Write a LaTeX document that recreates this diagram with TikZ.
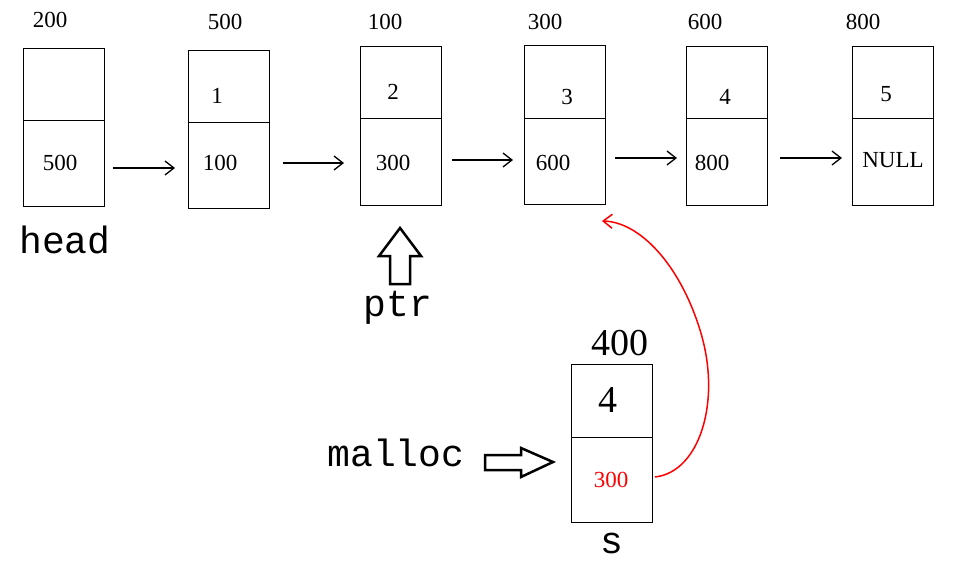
\documentclass[tikz,border=0pt]{standalone}
\usepackage{fontspec}
\usetikzlibrary{arrows.meta}
\setmainfont{Liberation Serif}
\newfontfamily\mono{Liberation Mono}
\begin{document}
\begin{tikzpicture}[x=1pt,y=-1pt,
  cell/.style={draw,line width=1.3pt,inner sep=0,anchor=north west},
  lab/.style={font=\fontsize{23}{27}\selectfont},
  big/.style={font=\fontsize{38}{44}\selectfont},
  word/.style={font=\mono\fontsize{38}{44}\selectfont},
  arr/.style={-{Straight Barb[length=9pt,width=14pt]},line width=1.3pt}]
\useasboundingbox (0,0) rectangle (953,578);
\foreach \n/\x/\t/\m/\b in {a/23/48/120/206,b/188/50/122/208,c/360/46/118/205,d/524/45/118/204,e/686/46/118/205,f/852/46/118/205,s/571/364/437/522}{
  \node[cell,minimum width=81pt,minimum height={\m-\t}] (\n t) at (\x,\t) {};
  \node[cell,minimum width=81pt,minimum height={\b-\m}] (\n b) at (\x,\m) {};
}
\node[lab] (l1) at (50,20) {200};
\node[lab] (l2) at (225,22) {500};
\node[lab] (l3) at (385,22) {100};
\node[lab] (l4) at (545,22) {300};
\node[lab] (l5) at (705,22) {600};
\node[lab] (l6) at (863,22) {800};
\node[lab] (v1) at (60,163) {500};
\node[lab] (d2) at (217,96) {1};
\node[lab] (v2) at (220,163) {100};
\node[lab] (d3) at (393,92) {2};
\node[lab] (v3) at (393,163) {300};
\node[lab] (d4) at (567,97) {3};
\node[lab] (v4) at (553,163) {600};
\node[lab] (d5) at (725,97) {4};
\node[lab] (v5) at (712,163) {800};
\node[lab] (d6) at (886,94) {5};
\node[lab] (v6) at (893,160) {NULL};
\coordinate (p1) at (113,168); \coordinate (q1) at (175,168);
\coordinate (p2) at (283,163); \coordinate (q2) at (344,163);
\coordinate (p3) at (452,160); \coordinate (q3) at (513,160);
\coordinate (p4) at (615,158); \coordinate (q4) at (677,158);
\coordinate (p5) at (780,158); \coordinate (q5) at (842,158);
\foreach \i in {1,...,5} \draw[arr] (p\i) -- (q\i);
\node[word] (head) at (65,240) {head};
\node[word] (ptr) at (398,308) {ptr};
\node[word] (malloc) at (396,453) {malloc};
\draw[line width=2.5pt,line join=miter] (400,228) -- (421,256) -- (410,256) -- (410,284) -- (390,284) -- (390,256) -- (379,256) -- cycle;
\draw[line width=2.5pt,line join=miter] (553,462) -- (521,448) -- (521,455) -- (485,455) -- (485,470) -- (521,470) -- (521,477) -- cycle;
\node[big] (n400) at (620,343) {400};
\node[big] (n4) at (608,400) {4};
\node[lab,text=red] (n300) at (611,480) {300};
\node[word] (sn) at (612,543) {s};
\coordinate (rs) at (655,477);
\coordinate (re) at (602,221);
\draw[red,line width=1.5pt,-{Straight Barb[length=9pt,width=14pt]}] (rs) .. controls (700,472) and (722,400) .. (700,330) .. controls (680,265) and (640,222) .. (re);
\end{tikzpicture}
\end{document}
